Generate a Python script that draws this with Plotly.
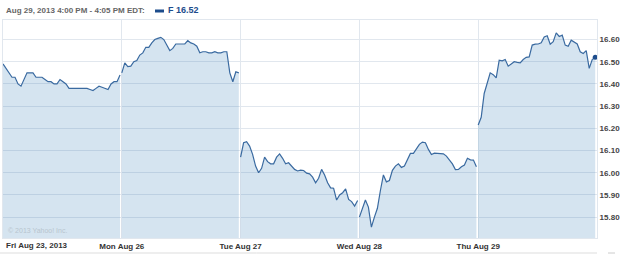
import plotly.graph_objects as go

# ---------------- data ----------------
day_labels = ["Fri Aug 23, 2013", "Mon Aug 26", "Tue Aug 27", "Wed Aug 28", "Thu Aug 29"]

fri = [16.49, 16.47, 16.445, 16.43, 16.43, 16.40, 16.39, 16.42, 16.45, 16.45,
       16.45, 16.43, 16.43, 16.43, 16.42, 16.41, 16.41, 16.40, 16.40, 16.42,
       16.41, 16.40, 16.38, 16.38, 16.38, 16.38, 16.38, 16.38, 16.38, 16.375,
       16.37, 16.38, 16.39, 16.385, 16.38, 16.375, 16.40, 16.41, 16.41, 16.44]
mon = [16.45, 16.495, 16.478, 16.48, 16.50, 16.505, 16.53, 16.54, 16.565, 16.565,
       16.585, 16.60, 16.605, 16.61, 16.60, 16.575, 16.55, 16.56, 16.58, 16.58,
       16.58, 16.58, 16.595, 16.585, 16.58, 16.57, 16.54, 16.545, 16.545, 16.54,
       16.54, 16.545, 16.54, 16.54, 16.545, 16.545, 16.45, 16.41, 16.455, 16.45]
tue = [16.07, 16.135, 16.14, 16.12, 16.083, 16.03, 16.00, 16.02, 16.07, 16.05,
       16.04, 16.04, 16.07, 16.085, 16.065, 16.04, 16.045, 16.03, 16.015, 16.008,
       16.012, 16.01, 15.998, 15.995, 15.98, 15.955, 15.975, 16.015, 15.99, 15.955,
       15.932, 15.93, 15.877, 15.90, 15.91, 15.927, 15.88, 15.87, 15.85, 15.875]
wed = [15.80, 15.84, 15.877, 15.845, 15.755, 15.80, 15.84, 15.92, 15.99, 15.959,
       15.965, 16.011, 16.03, 16.04, 16.024, 16.03, 16.055, 16.087, 16.087, 16.11,
       16.128, 16.138, 16.135, 16.105, 16.082, 16.088, 16.087, 16.087, 16.085, 16.075,
       16.055, 16.04, 16.014, 16.015, 16.027, 16.035, 16.065, 16.058, 16.057, 16.027]
thu = [16.215, 16.25, 16.357, 16.402, 16.45, 16.442, 16.427, 16.507, 16.504, 16.51,
       16.48, 16.49, 16.50, 16.497, 16.495, 16.51, 16.52, 16.522, 16.575, 16.579,
       16.58, 16.585, 16.612, 16.617, 16.579, 16.59, 16.63, 16.614, 16.62, 16.575,
       16.57, 16.597, 16.59, 16.58, 16.545, 16.537, 16.55, 16.47, 16.51, 16.52]

y_ticks = [15.80, 15.90, 16.00, 16.10, 16.20, 16.30, 16.40, 16.50, 16.60]
header_text = "Aug 29, 2013 4:00 PM - 4:05 PM EDT:"
symbol = "F"
last_price = 16.52
copyright_text = "© 2013 Yahoo! Inc."

# ---------------- styling ----------------
W, H = 625, 255
ML, MR, MT, MB = 3, 28, 20, 17
LINE = "#3a6aa0"
FILL = "rgba(45,120,180,0.2)"
GRID = "#e1e7ee"
FONT = "Liberation Sans"
DAY_SPAN = 0.985

def px_x(px):
    return (px - ML) / (W - ML - MR)

def px_y(py):
    return (H - MB - py) / (H - MT - MB)

fig = go.Figure()
days = [fri, mon, tue, wed, thu]
for d, vals in enumerate(days):
    n = len(vals)
    xs = [d + i / (n - 1) * DAY_SPAN for i in range(n)]
    fig.add_trace(go.Scatter(
        x=xs, y=vals, mode="lines",
        line=dict(color=LINE, width=1.2),
        fill="tozeroy", fillcolor=FILL,
        hoverinfo="skip", showlegend=False,
    ))

# last price marker
fig.add_trace(go.Scatter(
    x=[4 + DAY_SPAN], y=[thu[-1]], mode="markers",
    marker=dict(color="#1d4c8c", size=5),
    hoverinfo="skip", showlegend=False, cliponaxis=False,
))

fig.update_layout(
    width=W, height=H, autosize=False,
    margin=dict(l=ML, r=MR, t=MT, b=MB, pad=0),
    paper_bgcolor="white", plot_bgcolor="white",
    font=dict(family=FONT, size=8, color="#333"),
    xaxis=dict(
        range=[0, 5], tickvals=[1, 2, 3, 4], ticktext=day_labels[1:],
        showgrid=True, gridcolor=GRID, gridwidth=1, zeroline=False,
        showline=True, linecolor=GRID, mirror=True, ticks="",
        tickfont=dict(family=FONT, size=8, color="#333", weight="bold"),
        fixedrange=True,
    ),
    yaxis=dict(
        range=[15.706, 16.688], side="right", tickvals=y_ticks,
        tickformat=".2f",
        showgrid=True, gridcolor=GRID, gridwidth=1, zeroline=False,
        showline=True, linecolor=GRID, mirror=True, ticks="",
        tickfont=dict(family=FONT, size=8, color="#444", weight="bold"),
        fixedrange=True,
    ),
)

annotations = [
    dict(text=day_labels[0], x=0, xref="x", y=0, yref="paper",
         xanchor="left", yanchor="top", yshift=-1, xshift=1, showarrow=False,
         font=dict(family=FONT, size=8, color="#333", weight="bold")),
    dict(text=header_text, x=px_x(4), xref="paper", y=px_y(10.5), yref="paper",
         xanchor="left", yanchor="middle", showarrow=False,
         font=dict(family=FONT, size=8, color="#666", weight="bold")),
    dict(text=f"{symbol} {last_price:.2f}", x=px_x(166), xref="paper", y=px_y(10.5), yref="paper",
         xanchor="left", yanchor="middle", showarrow=False,
         font=dict(family=FONT, size=9, color="#1d4c8c", weight="bold")),
    dict(text=copyright_text, x=px_x(6), xref="paper", y=px_y(230), yref="paper",
         xanchor="left", yanchor="middle", showarrow=False,
         font=dict(family=FONT, size=7, color="#b8c4cf")),
]
fig.update_layout(annotations=annotations)

shapes = [
    dict(type="rect", xref="paper", yref="paper",
         x0=px_x(155), x1=px_x(164), y0=px_y(12.5), y1=px_y(9.5),
         fillcolor="#1d4c8c", line=dict(width=0)),
    dict(type="line", xref="paper", yref="paper",
         x0=px_x(0), x1=px_x(597), y0=px_y(253), y1=px_y(253),
         line=dict(color="#dddddd", width=1)),
    dict(type="line", xref="paper", yref="paper",
         x0=px_x(608), x1=px_x(615), y0=px_y(253), y1=px_y(253),
         line=dict(color="#cccccc", width=1)),
]
fig.update_layout(shapes=shapes)

fig.write_html("out.html")
